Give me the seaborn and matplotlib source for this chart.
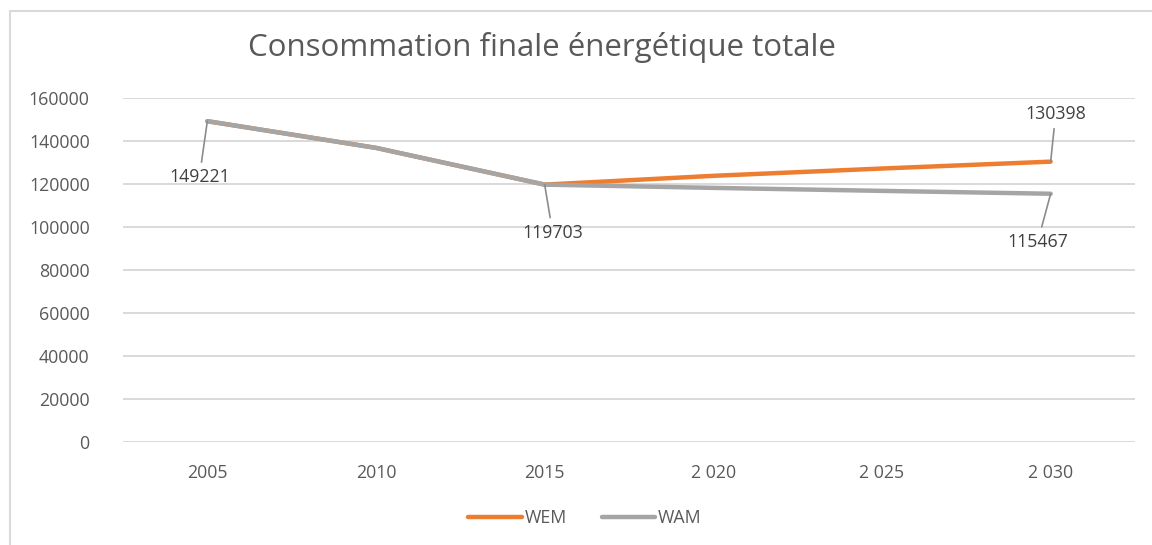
import matplotlib
matplotlib.use("Agg")
import matplotlib.pyplot as plt
import seaborn as sns
import pandas as pd
from matplotlib.patches import Rectangle

years = ["2005", "2010", "2015", "2 020", "2 025", "2 030"]
wem = [149221, 136800, 119703, 123800, 127200, 130398]
wam = [149221, 136800, 119703, 118200, 116800, 115467]
series_names = ["WEM", "WAM"]
title = "Consommation finale énergétique totale"
yticks = [0, 20000, 40000, 60000, 80000, 100000, 120000, 140000, 160000]

df = pd.DataFrame({
    "year": years * 2,
    "value": wem + wam,
    "series": [series_names[0]] * len(years) + [series_names[1]] * len(years),
})

sns.set_theme(style="white")
plt.rcParams["font.family"] = ["Open Sans", "DejaVu Sans"]

fig = plt.figure(figsize=(11.52, 5.45), dpi=100)
ax = fig.add_axes([123 / 1152, 1 - 442 / 545, (1135 - 123) / 1152, (442 - 98) / 545])

sns.lineplot(data=df, x="year", y="value", hue="series", sort=False,
             palette={"WEM": "#ED7D31", "WAM": "#A5A5A5"}, linewidth=3.2,
             ax=ax, legend=True)

ax.set_ylim(0, 160000)
ax.set_xlim(-0.5, len(years) - 0.5)
ax.set_yticks(yticks)
ax.set_yticklabels([str(v) for v in yticks])
ax.grid(axis="y", color="#D9D9D9", linewidth=1.4)
ax.set_axisbelow(True)
for s in ax.spines.values():
    s.set_visible(False)
ax.tick_params(axis="y", length=0, pad=24, labelsize=12.8, labelcolor="#595959")
ax.tick_params(axis="x", length=0, pad=16, labelsize=12.8, labelcolor="#595959")
ax.set_xlabel("")
ax.set_ylabel("")

fig.text(542 / 1152, 1 - 47 / 545, title, ha="center", va="center",
         fontsize=22.5, color="#595959")

def label(xi, yv, dx, dy):
    ax.annotate(str(yv), xy=(xi, yv), xytext=(dx, dy), textcoords="offset pixels",
                ha="center", va="center", fontsize=12.8, color="#404040",
                arrowprops=dict(arrowstyle="-", color="#8C8C8C", lw=1.2,
                                shrinkA=2, shrinkB=0))

label(0, wam[0], -8, -56)
label(2, wam[2], 8, -48)
label(5, wem[5], 5, 48)
label(5, wam[5], -13, -48)

leg = ax.legend(loc="center", bbox_to_anchor=(585 / 1152, 1 - 518 / 545),
                bbox_transform=fig.transFigure, ncol=2, frameon=False,
                handlelength=3.0, handletextpad=0.15, columnspacing=2.0,
                fontsize=12.8)
for t in leg.get_texts():
    t.set_color("#595959")
for h in leg.get_lines():
    h.set_linewidth(3.2)

fig.patches.append(Rectangle((10 / 1152, -0.05), 1.1, 1.05 - 11 / 545,
                             transform=fig.transFigure, fill=False,
                             edgecolor="#D9D9D9", linewidth=1.5))

fig.savefig("out.png", dpi=100, facecolor="white")
